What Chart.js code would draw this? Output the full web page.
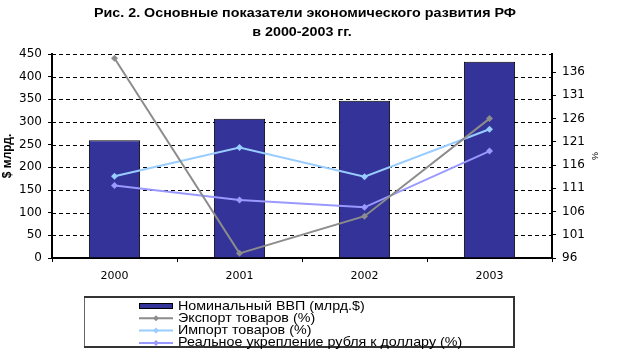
<!DOCTYPE html>
<html>
<head>
<meta charset="utf-8">
<script src="https://cdn.jsdelivr.net/npm/chart.js@4"></script>
<style>
  html, body { margin: 0; padding: 0; background: #fff; }
  #wrap { width: 625px; height: 363px; }
</style>
</head>
<body>
<div id="wrap"><canvas id="chart" width="625" height="363"></canvas></div>
<script>
// chart data
var titleLines = ['Рис. 2. Основные показатели экономического развития РФ', 'в 2000-2003 гг.'];
var years = ['2000', '2001', '2002', '2003'];
var gdp = [260, 307, 347, 433];
var exportPct = [139, 97, 105, 126];
var importPct = [113.6, 119.8, 113.5, 123.7];
var rublePct = [111.6, 108.5, 106.9, 119];
var seriesNames = ['Номинальный ВВП (млрд.$)', 'Экспорт товаров (%)', 'Импорт товаров (%)', 'Реальное укрепление рубля к доллару (%)'];
var leftTicks = [0, 50, 100, 150, 200, 250, 300, 350, 400, 450];
var rightTicks = [96, 101, 106, 111, 116, 121, 126, 131, 136];

var FONT = '"Liberation Sans", Arial, sans-serif';
var TICKFONT = '"DejaVu Sans", sans-serif';

// title drawn by hand, a bit stretched like the original
var titlePlugin = {
  id: 'twoLineTitle',
  afterDraw: function (chart) {
    var ctx = chart.ctx;
    ctx.save();
    ctx.fillStyle = '#000';
    ctx.textAlign = 'center';
    ctx.textBaseline = 'middle';
    ctx.font = 'bold 13px ' + FONT;
    ctx.translate(305, 0);
    ctx.scale(1.1, 1);
    ctx.fillText(titleLines[0], 0, 13);
    ctx.fillText(titleLines[1], -3 / 1.1, 32);
    ctx.restore();
  }
};

// dashed horizontal grid at the left-axis ticks
var dashGridPlugin = {
  id: 'dashGrid',
  beforeDatasetsDraw: function (chart) {
    var ctx = chart.ctx;
    var area = chart.chartArea;
    var y = chart.scales.y;
    ctx.save();
    ctx.strokeStyle = '#000';
    ctx.lineWidth = 1;
    ctx.setLineDash([4, 3]);
    leftTicks.forEach(function (v) {
      var py = Math.round(y.getPixelForValue(v)) + 0.5;
      ctx.beginPath();
      ctx.moveTo(area.left, py);
      ctx.lineTo(area.right, py);
      ctx.stroke();
    });
    ctx.restore();
  }
};

// boxed legend under the chart
var legendPlugin = {
  id: 'boxLegend',
  afterDraw: function (chart) {
    var ctx = chart.ctx;
    var box = { x: 84, y: 296, w: 430, h: 51 };
    ctx.save();
    ctx.strokeStyle = '#666';
    ctx.lineWidth = 1;
    ctx.strokeRect(box.x + 0.5, box.y + 0.5, box.w, box.h);
    ctx.strokeStyle = '#333';
    ctx.lineWidth = 2;
    ctx.beginPath();
    ctx.moveTo(box.x, box.y + 1);
    ctx.lineTo(box.x + box.w + 1, box.y + 1);
    ctx.moveTo(box.x, box.y + box.h);
    ctx.lineTo(box.x + box.w + 1, box.y + box.h);
    ctx.moveTo(box.x + box.w, box.y);
    ctx.lineTo(box.x + box.w, box.y + box.h);
    ctx.stroke();
    ctx.font = '13px ' + FONT;
    ctx.textBaseline = 'middle';
    ctx.textAlign = 'left';
    chart.data.datasets.forEach(function (ds, i) {
      var y = 306 + i * 12.3;
      ctx.lineWidth = 1;
      if (ds.type === 'bar') {
        ctx.fillStyle = ds.backgroundColor;
        ctx.fillRect(139, y - 3, 34, 6);
        ctx.strokeStyle = '#000';
        ctx.strokeRect(139.5, y - 2.5, 33, 5);
      } else {
        ctx.strokeStyle = ds.borderColor;
        ctx.lineWidth = 2;
        ctx.beginPath();
        ctx.moveTo(139, y);
        ctx.lineTo(173, y);
        ctx.stroke();
        ctx.fillStyle = ds.borderColor;
        ctx.beginPath();
        ctx.moveTo(156, y - 3);
        ctx.lineTo(159, y);
        ctx.lineTo(156, y + 3);
        ctx.lineTo(153, y);
        ctx.closePath();
        ctx.fill();
      }
      ctx.fillStyle = '#000';
      ctx.save();
      ctx.translate(178, y);
      ctx.scale(1.1, 1);
      ctx.fillText(ds.label, 0, 0);
      ctx.restore();
    });
    ctx.restore();
  }
};

function lineSet(label, data, color) {
  return {
    type: 'line',
    label: label,
    data: data,
    yAxisID: 'y1',
    borderColor: color,
    backgroundColor: color,
    borderWidth: 2,
    pointStyle: 'rectRot',
    pointRadius: 3.5,
    pointBorderWidth: 0,
    tension: 0,
    order: 1
  };
}

var ctx = document.getElementById('chart').getContext('2d');
new Chart(ctx, {
  data: {
    labels: years,
    datasets: [
      {
        type: 'bar',
        label: seriesNames[0],
        data: gdp,
        yAxisID: 'y',
        backgroundColor: '#333399',
        borderColor: '#000',
        borderWidth: 1,
        barPercentage: 0.41,
        categoryPercentage: 1,
        order: 2
      },
      lineSet(seriesNames[1], exportPct, '#8c8c8c'),
      lineSet(seriesNames[2], importPct, '#99ccff'),
      lineSet(seriesNames[3], rublePct, '#9999ff')
    ]
  },
  options: {
    responsive: false,
    animation: false,
    layout: { padding: { top: 54, left: 0, right: 25, bottom: 0 } },
    plugins: {
      legend: { display: false },
      title: { display: false },
      tooltip: { enabled: false }
    },
    scales: {
      x: {
        grid: { drawOnChartArea: false, offset: true, color: '#000', tickLength: 4, lineWidth: 1 },
        border: { color: '#000', width: 2 },
        ticks: { color: '#000', font: { family: TICKFONT, size: 11 }, padding: 8 },
        afterFit: function (scale) { scale.height = 105; }
      },
      y: {
        position: 'left',
        min: 0,
        max: 450,
        afterBuildTicks: function (scale) {
          scale.ticks = leftTicks.map(function (v) { return { value: v }; });
        },
        grid: { drawOnChartArea: false, color: '#000', lineWidth: 1, tickLength: 4 },
        border: { color: '#000', width: 2 },
        ticks: { color: '#000', font: { family: TICKFONT, size: 12 }, padding: 6 },
        title: {
          display: true,
          text: '$ млрд.',
          color: '#000',
          font: { family: FONT, size: 12, weight: 'bold' },
          padding: { top: 0, bottom: 0 }
        },
        afterFit: function (scale) { scale.width = 52; }
      },
      y1: {
        position: 'right',
        min: 96,
        max: 139.9,
        afterBuildTicks: function (scale) {
          scale.ticks = rightTicks.map(function (v) { return { value: v }; });
        },
        grid: { drawOnChartArea: false, color: '#000', tickLength: 4 },
        border: { color: '#000', width: 2 },
        ticks: { color: '#000', font: { family: TICKFONT, size: 12 }, padding: 6 },
        title: {
          display: true,
          text: '%',
          color: '#000',
          font: { family: FONT, size: 9 },
          padding: { top: 0, bottom: 0 }
        },
        afterFit: function (scale) { scale.width = 48; }
      }
    }
  },
  plugins: [dashGridPlugin, titlePlugin, legendPlugin]
});
</script>
</body>
</html>
